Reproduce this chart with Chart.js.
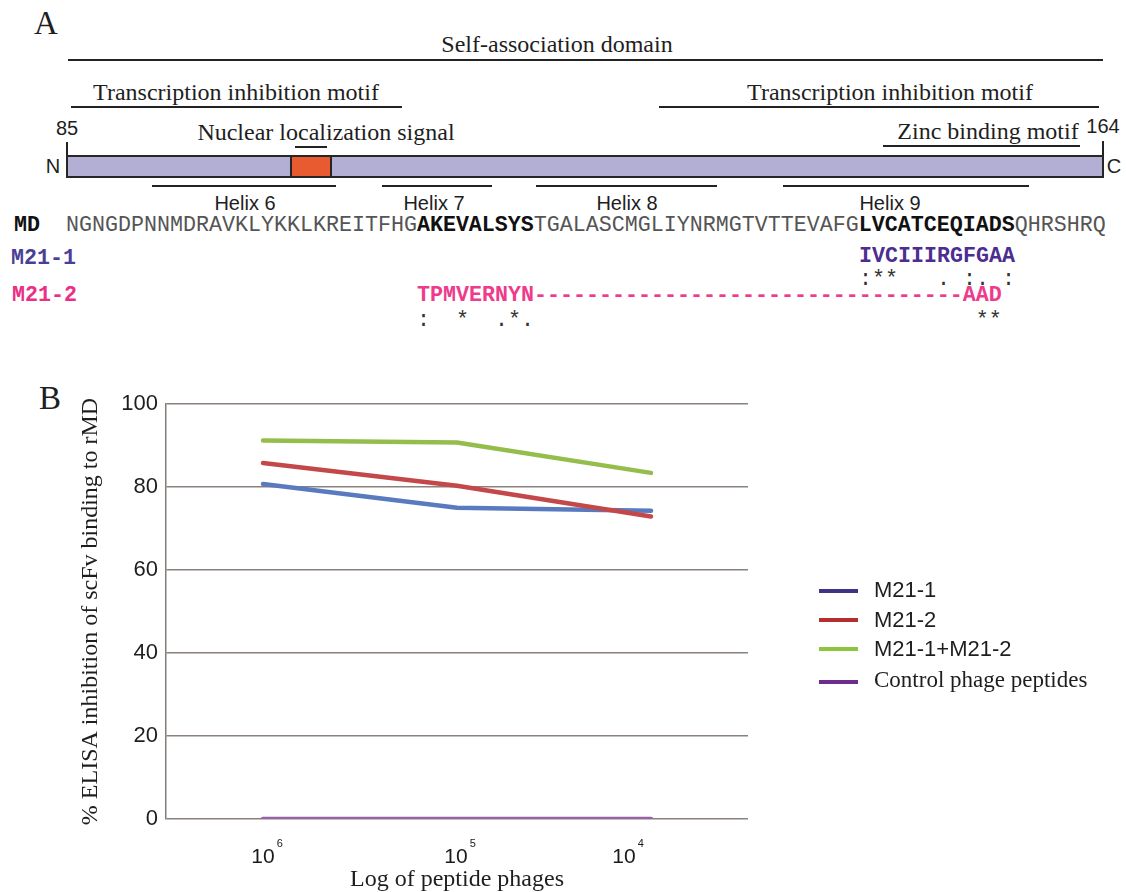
<!DOCTYPE html>
<html>
<head>
<meta charset="utf-8">
<script src="https://cdn.jsdelivr.net/npm/chart.js@4.4.1/dist/chart.umd.min.js"></script>
<style>
  html, body { margin: 0; padding: 0; background: #ffffff; }
  #fig { position: relative; width: 1126px; height: 892px; overflow: hidden; background: #fff; }
  .t { position: absolute; white-space: pre; line-height: 1; color: #1e1e1e; }
  .c { transform: translateX(-50%); }
  .serif { font-family: "Liberation Serif", "Times New Roman", serif; font-size: 24px; }
  .sans { font-family: "Liberation Sans", Arial, sans-serif; }
  .mono { font-family: "Liberation Mono", "Courier New", monospace; font-size: 21.67px; }
  .ln { position: absolute; height: 2px; background: #222; }
  .vl { position: absolute; width: 2px; background: #222; }
  #chartBox { position: absolute; left: 0; top: 380px; width: 1126px; height: 512px; }
  .sw { position: absolute; width: 39px; height: 4px; }
</style>
</head>
<body>
<div id="fig">
  <!-- Panel A -->
  <div class="t serif" style="left:34px;top:7px;font-size:33px">A</div>
  <div class="t serif c" style="left:557px;top:32px">Self-association domain</div>
  <div class="ln" style="left:68px;width:1035px;top:59px"></div>

  <div class="t serif c" style="left:236px;top:80px">Transcription inhibition motif</div>
  <div class="ln" style="left:71px;width:331px;top:106px"></div>
  <div class="t serif c" style="left:890px;top:80px">Transcription inhibition motif</div>
  <div class="ln" style="left:659px;width:440px;top:106px"></div>

  <div class="t sans c" style="left:67px;top:118px;font-size:20px">85</div>
  <div class="t serif c" style="left:326px;top:120px">Nuclear localization signal</div>
  <div class="ln" style="left:295px;width:32px;top:146px"></div>
  <div class="t serif c" style="left:988px;top:119px">Zinc binding motif</div>
  <div class="ln" style="left:883px;width:197px;top:145px"></div>
  <div class="t sans c" style="left:1103px;top:116px;font-size:20px">164</div>

  <div class="vl" style="left:66px;top:142px;height:15px"></div>
  <div class="vl" style="left:1102px;top:141px;height:16px"></div>
  <div style="position:absolute;left:66px;top:155px;width:1038px;height:23px;background:#b2aed4;border:2px solid #262626;box-sizing:border-box"></div>
  <div style="position:absolute;left:290px;top:155px;width:42px;height:23px;background:#e85a30;border:2px solid #262626;box-sizing:border-box"></div>
  <div class="t sans c" style="left:53px;top:156px;font-size:20px">N</div>
  <div class="t sans c" style="left:1114px;top:156px;font-size:20px">C</div>

  <div class="ln" style="left:152px;width:184px;top:185px"></div>
  <div class="ln" style="left:382px;width:110px;top:185px"></div>
  <div class="ln" style="left:536px;width:181px;top:185px"></div>
  <div class="ln" style="left:783px;width:246px;top:185px"></div>
  <div class="t sans c" style="left:245px;top:193px;font-size:20px">Helix 6</div>
  <div class="t sans c" style="left:434px;top:193px;font-size:20px">Helix 7</div>
  <div class="t sans c" style="left:627px;top:193px;font-size:20px">Helix 8</div>
  <div class="t sans c" style="left:890px;top:193px;font-size:20px">Helix 9</div>

  <div class="t mono" style="left:14px;top:215px;font-weight:bold;color:#111">MD</div>
  <div class="t mono" style="left:66px;top:215px;color:#555">NGNGDPNNMDRAVKLYKKLKREITFHG<b style="color:#111">AKEVALSYS</b>TGALASCMGLIYNRMGTVTTEVAFG<b style="color:#111">LVCATCEQIADS</b>QHRSHRQ</div>

  <div class="t mono" style="left:11px;top:248px;font-weight:bold;color:#4a3f97">M21-1</div>
  <div class="t mono" style="left:859px;top:246px;font-weight:bold;color:#4b2e8f">IVCIIIRGFGAA</div>
  <div class="t mono" style="left:859px;top:269px;color:#333">:**   . :. :</div>

  <div class="t mono" style="left:12px;top:285px;font-weight:bold;color:#ea2f85">M21-2</div>
  <div class="t mono" style="left:417px;top:285px;font-weight:bold;color:#ee3b8b">TPMVERNYN---------------------------------AAD</div>
  <div class="t mono" style="left:417px;top:310px;color:#333">:  *  .*.                                  **</div>

  <!-- Panel B -->
  <div class="t serif" style="left:39px;top:382px;font-size:33px">B</div>
  <div id="chartBox"><canvas id="chart" width="1126" height="512"></canvas></div>
  <div id="legend"></div>
</div>

<script>
// ---------- data ----------
const categories = ['10^6', '10^5', '10^4'];
const tickBase = '10';
const tickExponents = ['6', '5', '4'];
const seriesNames = ['M21-1', 'M21-2', 'M21-1+M21-2', 'Control phage peptides'];
const m21_1 = [80.7, 75.0, 74.3];
const m21_2 = [85.8, 80.3, 72.9];
const m21_combo = [91.2, 90.7, 83.4];
const control = [0, 0, 0];
const yTicks = [0, 20, 40, 60, 80, 100];
const yTitle = '% ELISA inhibition of scFv binding to rMD';
const xTitle = 'Log of peptide phages';

// ---------- styles ----------
const lineColors = ['#5a7abf', '#c4484a', '#95bd4c', '#9861a9'];
const legendColors = ['#3d3387', '#b72e30', '#8cc63e', '#6c2d8d'];
const drawOrder = [2, 1, 0, 0];
const labelShift = [0, -1, -27];
const seriesValues = [m21_1, m21_2, m21_combo, control];

// ---------- legend (HTML) ----------
const legendEl = document.getElementById('legend');
const legendSwatchY = [589, 618, 647, 680];
const legendTextTop = [579, 609, 638, 668];
seriesNames.forEach((name, i) => {
  const sw = document.createElement('div');
  sw.className = 'sw';
  sw.style.left = '819px';
  sw.style.top = legendSwatchY[i] + 'px';
  sw.style.background = legendColors[i];
  legendEl.appendChild(sw);
  const tx = document.createElement('div');
  tx.className = 't ' + (i === 3 ? 'serif' : 'sans');
  tx.style.left = '874px';
  tx.style.top = legendTextTop[i] + 'px';
  tx.style.fontSize = (i === 3 ? 23 : 22) + 'px';
  tx.textContent = name;
  legendEl.appendChild(tx);
});

// ---------- x tick labels with superscripts ----------
const powLabels = {
  id: 'powLabels',
  afterDraw(chart) {
    const ctx = chart.ctx;
    const x = chart.scales.x;
    ctx.save();
    ctx.fillStyle = '#1a1a1a';
    ctx.textBaseline = 'alphabetic';
    ctx.textAlign = 'left';
    tickExponents.forEach((exp, i) => {
      const cx = x.getPixelForTick(i) + labelShift[i];
      ctx.font = '21px "Liberation Sans", Arial, sans-serif';
      const w = ctx.measureText(tickBase).width;
      ctx.fillText(tickBase, cx - w / 2, 483);
      ctx.font = '11px "Liberation Sans", Arial, sans-serif';
      ctx.fillText(exp, cx + w / 2 + 2, 467);
    });
    ctx.restore();
  }
};

new Chart(document.getElementById('chart'), {
  type: 'line',
  data: {
    labels: categories,
    datasets: seriesNames.map((name, i) => ({
      label: name,
      data: seriesValues[i],
      borderColor: lineColors[i],
      backgroundColor: lineColors[i],
      borderWidth: 4.5,
      pointRadius: 0,
      pointHoverRadius: 0,
      tension: 0,
      fill: false,
      borderCapStyle: 'round',
      borderJoinStyle: 'round',
      order: drawOrder[i]
    }))
  },
  options: {
    responsive: false,
    animation: false,
    events: [],
    layout: { padding: { left: 76, top: 24, right: 378, bottom: 0 } },
    plugins: {
      legend: { display: false },
      tooltip: { enabled: false }
    },
    scales: {
      x: {
        type: 'category',
        offset: true,
        grid: { display: false, drawTicks: false },
        border: { display: false },
        ticks: { display: false },
        title: {
          display: true,
          text: xTitle,
          color: '#1e1e1e',
          font: { family: '"Liberation Serif", "Times New Roman", serif', size: 24, lineHeight: 1 },
          padding: { top: 0, bottom: 0 }
        },
        afterFit(scale) { scale.height = 73; }
      },
      y: {
        min: 0,
        max: 100,
        afterBuildTicks(scale) { scale.ticks = yTicks.map(v => ({ value: v })); },
        grid: { color: '#8a817d', lineWidth: 1.5, drawTicks: false },
        border: { display: true, color: '#847c78', width: 1.5 },
        ticks: {
          padding: 8,
          color: '#1e1e1e',
          font: { family: '"Liberation Sans", Arial, sans-serif', size: 22 }
        },
        title: {
          display: true,
          text: yTitle,
          color: '#1e1e1e',
          font: { family: '"Liberation Serif", "Times New Roman", serif', size: 24, lineHeight: 1 },
          padding: { top: 3, bottom: 0 }
        },
        afterFit(scale) { scale.width = 90; }
      }
    }
  },
  plugins: [powLabels]
});
</script>
</body>
</html>
